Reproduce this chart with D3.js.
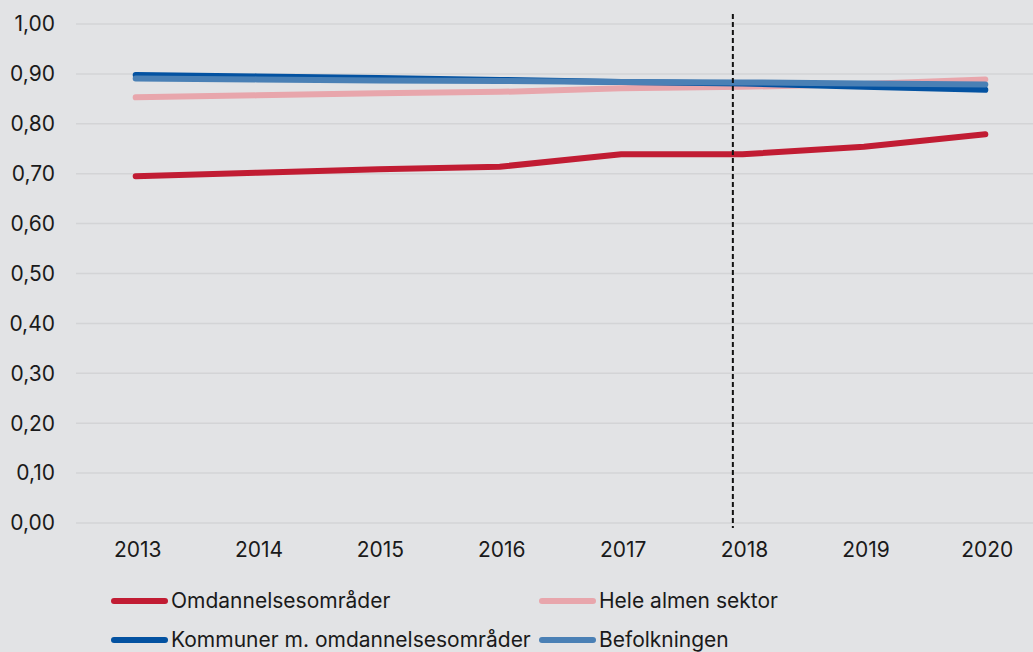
<!DOCTYPE html>
<html>
<head>
<meta charset="utf-8">
<script src="https://cdn.jsdelivr.net/npm/d3@7"></script>
<style>
  html, body { margin: 0; padding: 0; background: #e2e3e5; }
  svg { display: block; font-family: Inter, "Noto Sans", sans-serif; }
</style>
</head>
<body>
<svg id="chart"></svg>
<script>
const years = [2013, 2014, 2015, 2016, 2017, 2018, 2019, 2020]
const yTicks = [0, 0.1, 0.2, 0.3, 0.4, 0.5, 0.6, 0.7, 0.8, 0.9, 1.0]

const omdannelse = [0.695, 0.702, 0.709, 0.714, 0.739, 0.739, 0.754, 0.779]
const heleAlmen = [0.853, 0.857, 0.861, 0.864, 0.871, 0.874, 0.880, 0.889]
const kommuner = [0.898, 0.895, 0.892, 0.888, 0.884, 0.881, 0.874, 0.868]
const befolkning = [0.891, 0.889, 0.887, 0.886, 0.884, 0.883, 0.881, 0.879]

// dashed marker sits just left of the 2018 point
const markerYear = 2017.92

const series = [
    { name: "Omdannelsesområder", values: omdannelse, color: "#c11c33" },
    { name: "Hele almen sektor", values: heleAlmen, color: "#e8a6ac" },
    { name: "Kommuner m. omdannelsesområder", values: kommuner, color: "#0352a1" },
    { name: "Befolkningen", values: befolkning, color: "#4a80b5" }
]

const width = 1033
const height = 652
const fontSize = 21

const svg = d3.select("#chart")
    .attr("width", width)
    .attr("height", height)

const x = d3.scaleBand()
    .domain(years)
    .range([75, 1046])

const xc = d => x(d) + x.bandwidth() / 2

const xLin = d3.scaleLinear()
    .domain([years[0], years[years.length - 1]])
    .range([xc(years[0]), xc(years[years.length - 1])])

const y = d3.scaleLinear()
    .domain([0, 1])
    .range([523, 24])

// gridlines
svg.append("g")
    .selectAll("line")
    .data(yTicks)
    .join("line")
    .attr("x1", 76)
    .attr("x2", width)
    .attr("y1", d => y(d))
    .attr("y2", d => y(d))
    .attr("stroke", "#d3d4d6")
    .attr("stroke-width", 1.5)

// y axis labels
const fmt = d => d3.format(".2f")(d).replace(".", ",")
svg.append("g")
    .selectAll("text")
    .data(yTicks)
    .join("text")
    .text(fmt)
    .attr("x", 55)
    .attr("y", d => y(d))
    .attr("dy", "0.35em")
    .attr("text-anchor", "end")
    .attr("font-size", fontSize)
    .attr("fill", "#1a1a1a")

// x axis labels
svg.append("g")
    .selectAll("text")
    .data(years)
    .join("text")
    .text(d => d)
    .attr("x", d => xc(d) + 2)
    .attr("y", 550)
    .attr("dy", "0.35em")
    .attr("text-anchor", "middle")
    .attr("font-size", fontSize)
    .attr("fill", "#1a1a1a")

// lines
const line = d3.line()
    .x((d, i) => xc(years[i]))
    .y(d => y(d))

svg.append("g")
    .selectAll("path")
    .data(series)
    .join("path")
    .attr("d", d => line(d.values))
    .attr("fill", "none")
    .attr("stroke", d => d.color)
    .attr("stroke-width", 6)
    .attr("stroke-linecap", "round")
    .attr("stroke-linejoin", "round")

// dashed marker line
svg.append("line")
    .attr("x1", xLin(markerYear))
    .attr("x2", xLin(markerYear))
    .attr("y1", 14)
    .attr("y2", 528)
    .attr("stroke", "#111")
    .attr("stroke-width", 2)
    .attr("stroke-dasharray", "5,3")

// legend
const legendCols = [112, 540]
const legendRows = [601, 640]
const legend = svg.append("g")
    .selectAll("g")
    .data(series)
    .join("g")
    .attr("transform", (d, i) => `translate(${legendCols[i % 2]},${legendRows[Math.floor(i / 2)]})`)

legend.append("line")
    .attr("x1", 2)
    .attr("x2", 53)
    .attr("y1", 0)
    .attr("y2", 0)
    .attr("stroke", d => d.color)
    .attr("stroke-width", 6)
    .attr("stroke-linecap", "round")

legend.append("text")
    .text(d => d.name)
    .attr("x", 59)
    .attr("y", 0)
    .attr("dy", "0.35em")
    .attr("font-size", fontSize)
    .attr("fill", "#1a1a1a")
</script>
</body>
</html>
